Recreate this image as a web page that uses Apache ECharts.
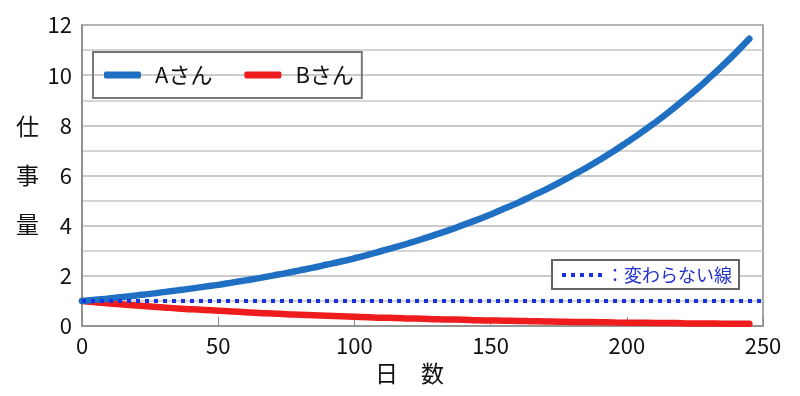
<!DOCTYPE html>
<html><head><meta charset="utf-8">
<script src="https://cdn.jsdelivr.net/npm/echarts@6/dist/echarts.min.js"></script>
<style>html,body{margin:0;padding:0;background:#fff}#c{width:800px;height:396px}</style>
</head><body><div id="c"></div>
<script>
const days = [0,5,10,15,20,25,30,35,40,45,50,55,60,65,70,75,80,85,90,95,100,105,110,115,120,125,130,135,140,145,150,155,160,165,170,175,180,185,190,195,200,205,210,215,220,225,230,235,240,245];
const seriesA = [1.00,1.05,1.10,1.16,1.22,1.28,1.35,1.42,1.49,1.57,1.64,1.73,1.82,1.91,2.01,2.11,2.22,2.33,2.45,2.57,2.70,2.84,2.99,3.14,3.30,3.47,3.65,3.83,4.03,4.23,4.45,4.68,4.91,5.17,5.43,5.71,6.00,6.30,6.62,6.96,7.32,7.69,8.08,8.49,8.93,9.38,9.86,10.36,10.89,11.45];
const seriesB = [1.00,0.95,0.90,0.86,0.82,0.78,0.74,0.70,0.67,0.64,0.61,0.58,0.55,0.52,0.50,0.47,0.45,0.43,0.41,0.39,0.37,0.35,0.33,0.32,0.30,0.29,0.27,0.26,0.25,0.23,0.22,0.21,0.20,0.19,0.18,0.17,0.16,0.16,0.15,0.14,0.13,0.13,0.12,0.12,0.11,0.10,0.10,0.09,0.09,0.085];
const constDays = [0, 250];
const constVals = [1.0, 1.0];
const xTicks = [0,50,100,150,200,250];
const yTicks = [0,2,4,6,8,10,12];
const nameA = 'Aさん', nameB = 'Bさん', nameC = '変わらない線';

const font = '"Noto Sans CJK JP", "Noto Sans", sans-serif';
const chart = echarts.init(document.getElementById('c'));
chart.setOption({
  animation: false,
  textStyle: {fontFamily: font},
  grid: {left: 82, right: 37, top: 25, bottom: 70, show: true, borderColor: '#8a8a8a', borderWidth: 1.5},
  legend: {
    data: [nameA, nameB], left: 93, top: 52, orient: 'horizontal',
    padding: [12, 8, 12, 11], itemGap: 32, itemWidth: 37, itemHeight: 7,
    icon: 'roundRect',
    borderColor: '#777', borderWidth: 2,
    textStyle: {fontSize: 22, color: '#111', fontFamily: font, padding: [0,0,0,9]}
  },
  xAxis: {
    type: 'value', min: xTicks[0], max: xTicks[xTicks.length-1], interval: 50,
    name: '日　数', nameLocation: 'middle', nameGap: 35,
    nameTextStyle: {fontSize: 23, color: '#111', padding: [0, 26, 0, 0], fontFamily: font},
    axisLine: {show: true, lineStyle: {color: '#8a8a8a', width: 1.5}},
    axisTick: {show: true, inside: true, length: 9, lineStyle: {color: '#8a8a8a'}},
    axisLabel: {fontSize: 22, color: '#111', margin: 9, fontFamily: font},
    splitLine: {show: false}
  },
  yAxis: {
    type: 'value', min: yTicks[0], max: yTicks[yTicks.length-1], interval: 2,
    name: '仕\n事\n量', nameLocation: 'middle', nameRotate: 0, nameGap: 43,
    nameTextStyle: {fontSize: 23, color: '#111', lineHeight: 49, padding: [28, 0, 0, 0], fontFamily: font},
    axisLine: {show: true, lineStyle: {color: '#8a8a8a', width: 1.5}},
    axisTick: {show: false},
    axisLabel: {fontSize: 22, color: '#111', margin: 10, fontFamily: font, padding: [0, 0, 3, 0]},
    splitLine: {show: true, lineStyle: {color: '#b8b8b8', width: 1.5}},
    minorTick: {show: false, splitNumber: 2},
    minorSplitLine: {show: true, lineStyle: {color: '#c8c8c8', width: 1.5}}
  },
  series: [
    {name: nameB, type: 'line', data: days.map((d,i)=>[d, seriesB[i]]), showSymbol: false, smooth: true,
     itemStyle: {color: '#ee1c1c'}, lineStyle: {color: '#ee1c1c', width: 6.5, cap: 'round'}, z: 2},
    {name: nameA, type: 'line', data: days.map((d,i)=>[d, seriesA[i]]), showSymbol: false, smooth: true,
     itemStyle: {color: '#1f6fc2'}, lineStyle: {color: '#1f6fc2', width: 6.5, cap: 'round'}, z: 3},
    {name: nameC, type: 'line', data: constDays.map((d,i)=>[d, constVals[i]]), showSymbol: false, silent: true,
     lineStyle: {color: '#1a33e0', width: 4, type: [4, 5]}, z: 4}
  ],
  graphic: [
    {type: 'rect', shape: {x: 552, y: 260, width: 187, height: 29}, style: {fill: '#fff', stroke: '#666', lineWidth: 2}, z: 10},
    {type: 'line', shape: {x1: 562, y1: 275, x2: 603, y2: 275}, style: {stroke: '#1a33e0', lineWidth: 4, lineDash: [4, 5]}, z: 11},
    {type: 'text', x: 606, y: 275, style: {text: '：' + nameC, fill: '#2233cc', font: '18px ' + font, textVerticalAlign: 'middle'}, z: 11}
  ]
});
</script></body></html>
